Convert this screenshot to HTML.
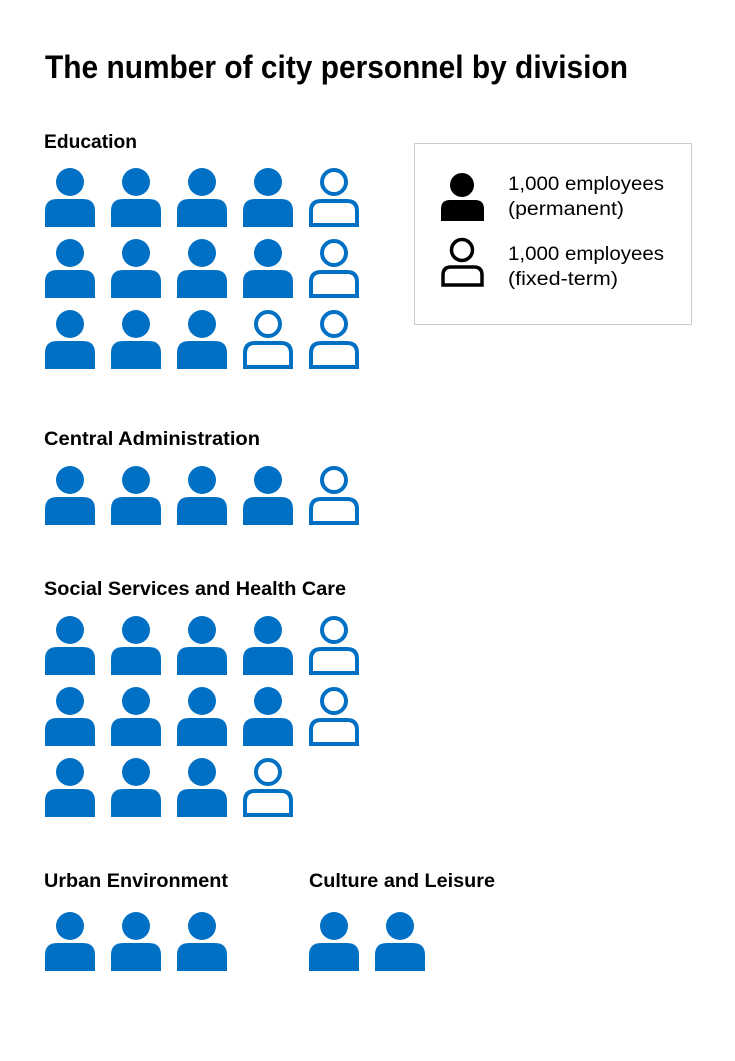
<!DOCTYPE html>
<html><head><meta charset="utf-8"><style>html,body{margin:0;padding:0;background:#fff}svg{display:block}</style></head>
<body>
<svg width="735" height="1061" viewBox="0 0 735 1061" xmlns="http://www.w3.org/2000/svg" font-family="Liberation Sans, sans-serif">
<defs>
<g id="p"><circle cx="25" cy="14" r="14" fill="#0070c4"/><path d="M0 59 V43 Q0 31 12 31 H38 Q50 31 50 43 V59 Z" fill="#0070c4"/></g>
<g id="f"><circle cx="25" cy="14" r="12" fill="none" stroke="#0070c4" stroke-width="4"/><path d="M2 57 V43 Q2 33 12 33 H38 Q48 33 48 43 V57 Z" fill="none" stroke="#0070c4" stroke-width="4"/></g>
</defs>
<text x="45" y="78" font-size="32" font-weight="bold" textLength="583" lengthAdjust="spacingAndGlyphs">The number of city personnel by division</text>

<text x="44" y="148" font-size="19" font-weight="bold" textLength="93" lengthAdjust="spacingAndGlyphs">Education</text>
<g transform="translate(45,168)"><use href="#p"/><use href="#p" x="66"/><use href="#p" x="132"/><use href="#p" x="198"/><use href="#f" x="264"/></g>
<g transform="translate(45,239)"><use href="#p"/><use href="#p" x="66"/><use href="#p" x="132"/><use href="#p" x="198"/><use href="#f" x="264"/></g>
<g transform="translate(45,310)"><use href="#p"/><use href="#p" x="66"/><use href="#p" x="132"/><use href="#f" x="198"/><use href="#f" x="264"/></g>

<text x="44" y="445" font-size="19" font-weight="bold" textLength="216" lengthAdjust="spacingAndGlyphs">Central Administration</text>
<g transform="translate(45,466)"><use href="#p"/><use href="#p" x="66"/><use href="#p" x="132"/><use href="#p" x="198"/><use href="#f" x="264"/></g>

<text x="44" y="595" font-size="19" font-weight="bold" textLength="302" lengthAdjust="spacingAndGlyphs">Social Services and Health Care</text>
<g transform="translate(45,616)"><use href="#p"/><use href="#p" x="66"/><use href="#p" x="132"/><use href="#p" x="198"/><use href="#f" x="264"/></g>
<g transform="translate(45,687)"><use href="#p"/><use href="#p" x="66"/><use href="#p" x="132"/><use href="#p" x="198"/><use href="#f" x="264"/></g>
<g transform="translate(45,758)"><use href="#p"/><use href="#p" x="66"/><use href="#p" x="132"/><use href="#f" x="198"/></g>

<text x="44" y="887" font-size="19" font-weight="bold" textLength="184" lengthAdjust="spacingAndGlyphs">Urban Environment</text>
<text x="309" y="887" font-size="19" font-weight="bold" textLength="186" lengthAdjust="spacingAndGlyphs">Culture and Leisure</text>
<g transform="translate(45,912)"><use href="#p"/><use href="#p" x="66"/><use href="#p" x="132"/></g>
<g transform="translate(309,912)"><use href="#p"/><use href="#p" x="66"/></g>

<rect x="414.5" y="143.5" width="277" height="181" fill="none" stroke="#cccccc" stroke-width="1"/>
<circle cx="462" cy="185" r="12" fill="#000"/>
<path d="M441 221 V209 Q441 200 450 200 H475 Q484 200 484 209 V221 Z" fill="#000"/>
<circle cx="462" cy="250" r="10.5" fill="none" stroke="#000" stroke-width="3.5"/>
<path d="M443 285 V275 Q443 267 451 267 H474 Q482 267 482 275 V285 Z" fill="none" stroke="#000" stroke-width="3.5"/>
<text x="508" y="190" font-size="19" textLength="156" lengthAdjust="spacingAndGlyphs">1,000 employees</text>
<text x="508" y="215" font-size="19" textLength="116" lengthAdjust="spacingAndGlyphs">(permanent)</text>
<text x="508" y="260" font-size="19" textLength="156" lengthAdjust="spacingAndGlyphs">1,000 employees</text>
<text x="508" y="285" font-size="19" textLength="110" lengthAdjust="spacingAndGlyphs">(fixed-term)</text>
</svg>
</body></html>
